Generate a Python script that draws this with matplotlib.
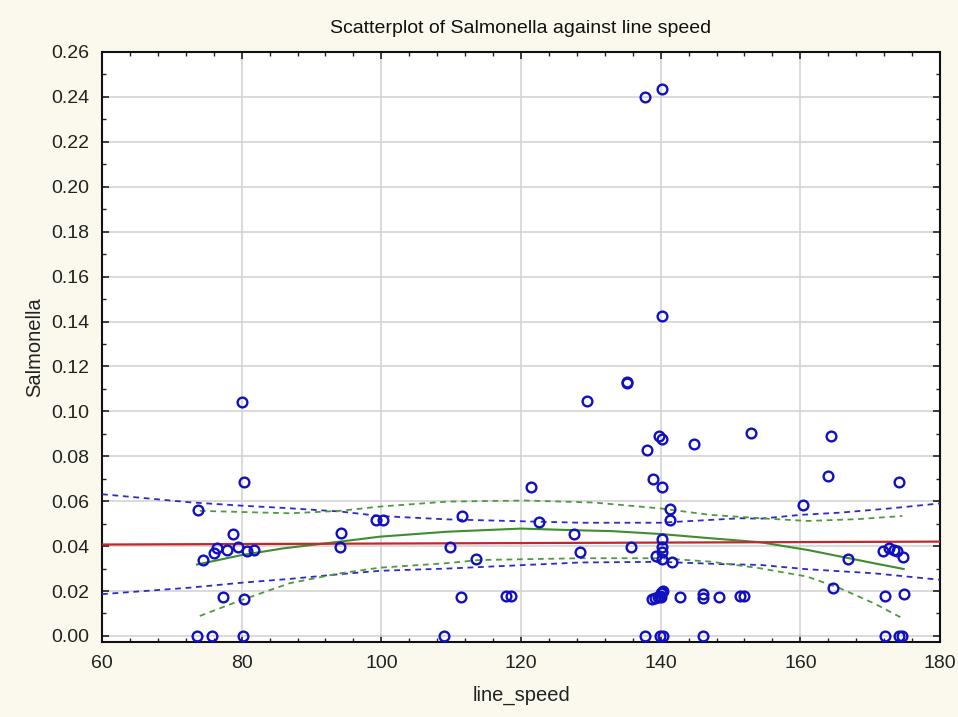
import matplotlib
matplotlib.use("Agg")
import matplotlib.pyplot as plt
from matplotlib.ticker import MultipleLocator, FormatStrFormatter

plt.rcParams['font.family'] = ['Liberation Sans', 'DejaVu Sans']

# ---- data ----
line_speed = [80.0, 80.3, 73.7, 78.8, 74.5, 76.0, 76.4, 77.9, 79.5, 80.8, 81.7,
              77.3, 80.3, 73.6, 75.8, 80.2,
              94.2, 94.1, 99.3, 100.2, 111.6, 109.9, 113.5, 111.4, 109.0, 117.8, 118.6,
              121.5, 122.6, 127.6, 128.5,
              135.2, 135.2, 129.4, 139.8, 140.2, 138.0, 144.8, 152.9, 138.9, 140.2,
              141.3, 141.3, 135.8, 140.2, 140.2, 140.2, 139.3, 140.2, 141.6,
              138.8, 139.2, 139.6, 139.9, 140.1, 140.3, 140.2, 140.0,
              142.8, 146.1, 146.1, 148.4, 151.4, 152.0,
              137.8, 139.9, 140.3, 146.0,
              137.8, 140.2, 140.2,
              164.4, 164.0, 174.1, 160.4, 166.8, 171.8, 172.7, 173.4, 173.9, 174.7,
              164.7, 172.1, 174.9, 172.1, 174.2, 174.6]
salmonella = [0.104, 0.0684, 0.0562, 0.0454, 0.0337, 0.0371, 0.0393, 0.0384, 0.0396, 0.0377, 0.0384,
              0.0172, 0.0166, 0.0, 0.0, 0.0,
              0.046, 0.0398, 0.0515, 0.0515, 0.0536, 0.0398, 0.0343, 0.0172, 0.0, 0.0179, 0.0179,
              0.0665, 0.0508, 0.0453, 0.0375,
              0.1132, 0.1125, 0.1046, 0.0892, 0.0876, 0.0828, 0.0855, 0.0904, 0.0699, 0.0665,
              0.0564, 0.0514, 0.0398, 0.0432, 0.0395, 0.0373, 0.0358, 0.0341, 0.0331,
              0.0165, 0.0170, 0.0172, 0.0180, 0.0190, 0.0200, 0.0195, 0.0175,
              0.0174, 0.0186, 0.0171, 0.0174, 0.0180, 0.0180,
              0.0, 0.0, 0.0, 0.0,
              0.2400, 0.2434, 0.1423,
              0.0890, 0.0712, 0.0684, 0.0583, 0.0343, 0.0378, 0.0393, 0.0383, 0.0377, 0.0352,
              0.0214, 0.0180, 0.0188, 0.0, 0.0, 0.0]

# linear fit (red)
fit_x = [60, 180]
fit_y = [0.0407, 0.0420]

# confidence band of the linear fit (blue dashed)
band_x = [60, 72.6, 80, 86, 94.1, 99.8, 109.4, 128.5, 139.9, 151.4, 154.3, 160, 165.7, 172.9, 180]
band_hi = [0.0631, 0.0595, 0.0580, 0.0570, 0.0554, 0.0534, 0.0519, 0.0504, 0.0504, 0.0524, 0.0522, 0.0539, 0.0549, 0.0568, 0.0590]
band_lo_x = [60, 72.6, 80, 86.9, 94.1, 99.8, 109.4, 128.5, 139.9, 148.5, 154.3, 161, 170.5, 180]
band_lo = [0.0186, 0.0215, 0.0237, 0.0254, 0.0275, 0.0290, 0.0300, 0.0327, 0.0330, 0.0320, 0.0316, 0.0297, 0.0279, 0.0250]

# smooth fit (green solid)
smooth_x = [73.6, 80, 86, 94.1, 99.8, 109.4, 120, 128.5, 132.8, 139.9, 147.1, 154.3, 161, 170.5, 174.8]
smooth_y = [0.0318, 0.0360, 0.0390, 0.0420, 0.0442, 0.0464, 0.0478, 0.0470, 0.0467, 0.0454, 0.0435, 0.0417, 0.0383, 0.0324, 0.0298]

# confidence band of smooth fit (green dashed)
sm_hi_x = [74.0, 86.9, 94.1, 99.8, 109.4, 120.6, 130.4, 139.9, 147.1, 154.3, 161, 168.2, 174.6]
sm_hi = [0.0557, 0.0546, 0.0557, 0.0576, 0.0598, 0.0603, 0.0594, 0.0568, 0.0539, 0.0524, 0.0512, 0.0520, 0.0534]
sm_lo_x = [74.0, 80, 86.9, 94.1, 99.8, 109.4, 114, 128.5, 139.9, 147.1, 154.3, 161, 165.7, 170.5, 174.6]
sm_lo = [0.0089, 0.0160, 0.0235, 0.0279, 0.0304, 0.0324, 0.0338, 0.0346, 0.0346, 0.0331, 0.0301, 0.0264, 0.0212, 0.0146, 0.0079]

xticks = [60, 80, 100, 120, 140, 160, 180]
yticks = [0.00, 0.02, 0.04, 0.06, 0.08, 0.10, 0.12, 0.14, 0.16, 0.18, 0.20, 0.22, 0.24, 0.26]

# ---- figure ----
bg = '#FBF9EE'
fig = plt.figure(figsize=(9.58, 7.17), dpi=100, facecolor=bg)
ax = fig.add_axes([0.1065, 0.1046, 0.8747, 0.8229])
ax.set_facecolor('white')

blue_d = '#2B2BC8'
green = '#3E8E2E'
green_d = '#4E9A3E'

dash = (0, (3.2, 2.6))
ax.plot(band_x, band_hi, color=blue_d, lw=1.3, linestyle=dash, zorder=3)
ax.plot(band_lo_x, band_lo, color=blue_d, lw=1.3, linestyle=dash, zorder=3)
ax.plot(sm_hi_x, sm_hi, color=green_d, lw=1.3, linestyle=dash, zorder=3)
ax.plot(sm_lo_x, sm_lo, color=green_d, lw=1.3, linestyle=dash, zorder=3)
ax.plot(smooth_x, smooth_y, color=green, lw=1.5, zorder=3)
ax.plot(fit_x, fit_y, color='#C0282E', lw=1.6, zorder=4)

ax.plot(line_speed, salmonella, linestyle='none', marker='o', markersize=7,
        markerfacecolor='none', markeredgecolor='#1010C0', markeredgewidth=1.7, zorder=5)

ax.set_xlim(60, 180)
ax.set_ylim(-0.0027, 0.26)
ax.set_xticks(xticks)
ax.set_yticks(yticks)
ax.xaxis.set_minor_locator(MultipleLocator(4))
ax.yaxis.set_minor_locator(MultipleLocator(0.01))
ax.yaxis.set_major_formatter(FormatStrFormatter('%.2f'))

ax.grid(True, which='major', color='#D4D4D4', lw=1.2, zorder=0)
ax.set_axisbelow(True)

ax.tick_params(which='both', direction='in', top=True, right=True, color='#222222')
ax.tick_params(which='major', length=5, width=1.2, labelsize=14, labelcolor='#222222')
ax.tick_params(axis='x', which='major', pad=9)
ax.tick_params(axis='y', which='major', pad=9)
ax.tick_params(which='minor', length=3, width=1.0)
for s in ax.spines.values():
    s.set_linewidth(1.5)
    s.set_color('#111111')

ax.set_title('Scatterplot of Salmonella against line speed', fontsize=14, color='#111111', pad=14)
ax.set_xlabel('line_speed', fontsize=14.5, color='#222222', labelpad=10)
ax.set_ylabel('Salmonella', fontsize=14.5, color='#222222', labelpad=5)

fig.savefig('out.png', dpi=100, facecolor=bg)
